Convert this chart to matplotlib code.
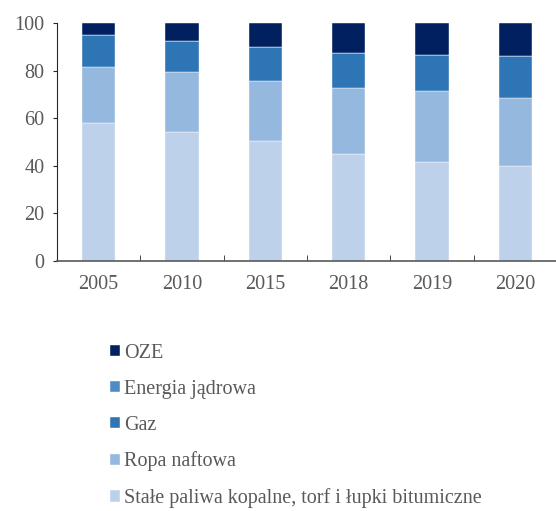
import numpy as np
import matplotlib
matplotlib.use("Agg")
import matplotlib.pyplot as plt

# struktura zużycia energii pierwotnej (%)
years = ["2005", "2010", "2015", "2018", "2019", "2020"]
stale = [58.1, 54.1, 50.3, 45.0, 41.6, 40.0]
ropa = [23.5, 25.4, 25.2, 27.8, 29.7, 28.6]
gaz = [13.2, 12.8, 14.3, 14.7, 15.4, 17.5]
jadrowa = [0, 0, 0, 0, 0, 0]
oze = [5.2, 7.7, 10.2, 12.5, 13.3, 13.9]

labels = ["Stałe paliwa kopalne, torf i łupki bitumiczne", "Ropa naftowa",
          "Gaz", "Energia jądrowa", "OZE"]
colors = ["#bdd1ea", "#95b8de", "#2e75b6", "#4f8cc4", "#002060"]

plt.rcParams["font.family"] = ["Liberation Serif", "DejaVu Serif"]
grey = "#595959"

fig = plt.figure(figsize=(5.56, 5.11), dpi=100)
ax = fig.add_axes([0.1025, 0.489, 0.899, 0.466])

x = np.arange(len(years))
bottom = np.zeros(len(years))
for vals, lab, col in zip([stale, ropa, gaz, jadrowa, oze], labels, colors):
    ax.bar(x, vals, 0.4, bottom=bottom, color=col, label=lab,
           edgecolor="white", linewidth=0.3)
    bottom += np.array(vals)

ax.set_xlim(-0.5, 5.5)
ax.set_ylim(0, 100)
ax.set_yticks(range(0, 101, 20))
ax.set_xticks(x)
ax.set_xticklabels(years)
ax.set_xticks(np.arange(-0.5, 5.6, 1), minor=True)

ax.tick_params(axis="x", which="major", length=0, pad=10, labelsize=14.5, labelcolor=grey)
ax.tick_params(axis="x", which="minor", direction="in", length=4, color="#262626")
ax.tick_params(axis="y", length=3, pad=6, labelsize=14.5, labelcolor=grey, color="#262626")

for s in ["top", "right"]:
    ax.spines[s].set_visible(False)
ax.spines["left"].set_color("#262626")
ax.spines["bottom"].set_color(grey)
ax.spines["bottom"].set_linewidth(1.2)

h, l = ax.get_legend_handles_labels()
leg = fig.legend(h[::-1], l[::-1], loc="upper left", bbox_to_anchor=(0.18, 0.347),
                 frameon=False, fontsize=14.5, handlelength=0.5, handleheight=0.5,
                 handletextpad=0.2, labelspacing=0.84, borderpad=0)
for t in leg.get_texts():
    t.set_color(grey)

fig.savefig("out.png", dpi=100)
